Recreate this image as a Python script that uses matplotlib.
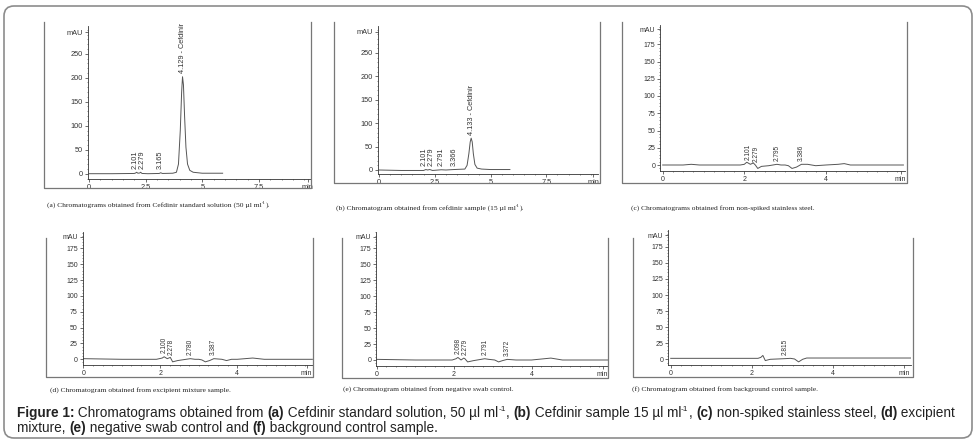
import numpy as np
import matplotlib
matplotlib.use('Agg')
import matplotlib.pyplot as plt
import matplotlib.transforms as mtransforms
from matplotlib.patches import FancyBboxPatch
from matplotlib.lines import Line2D
from matplotlib.ticker import MultipleLocator

W, H = 980, 443
INK = '#333333'
TRACE = '#555555'
FRAME = '#777777'

# ---- data: retention time (min) and absorbance (mAU) ----
# (a) Cefdinir standard solution
a_time = [0, 1.0, 2.0, 2.06, 2.101, 2.16, 2.24, 2.279, 2.34, 2.6, 3.1, 3.165, 3.24,
          3.7, 3.86, 3.95, 4.03, 4.09, 4.129, 4.17, 4.22, 4.28, 4.35, 4.45, 4.6, 5.0, 5.9]
a_mau = [0, 0, 0.5, 1.5, 3, 1, 1.5, 3, 0.5, 0, 0.5, 2, 0.5,
         1, 3, 20, 90, 170, 202, 185, 120, 55, 20, 7, 3, 1, 1]
a_rt = [2.101, 2.279, 3.165, 4.129]
a_names = ['2.101', '2.279', '3.165', '4.129 - Cefdinir']

# (b) Cefdinir sample
b_time = [0, 1.0, 2.0, 2.101, 2.18, 2.279, 2.4, 2.791, 3.0, 3.366, 3.6, 3.85,
          3.95, 4.03, 4.09, 4.133, 4.18, 4.23, 4.3, 4.4, 4.6, 5.0, 5.87]
b_mau = [0, -1, -1, 1, 0, 1, -1, 0.5, 0, 1, 1.5, 2,
         10, 35, 60, 68, 60, 35, 12, 4, 2, 1, 1]
b_rt = [2.101, 2.279, 2.791, 3.366, 4.133]
b_names = ['2.101', '2.279', '2.791', '3.366', '4.133 - Cefdinir']

# (c) non-spiked stainless steel
c_time = [0, 0.5, 0.7, 0.9, 1.9, 2.0, 2.06, 2.15, 2.22, 2.27, 2.33, 2.42, 2.6, 2.8,
          2.9, 3.0, 3.08, 3.17, 3.28, 3.4, 3.55, 3.75, 4.0, 4.3, 4.45, 4.6, 5.0, 5.9]
c_mau = [0, 0, 1, 0, 0, 1, 4, 1, 3, 0, -5, -2, -1, 1,
         0, 0, -1, -5, -3, 1, 1, -1, 0, 1, 2, 0, 0, 0]
c_rt = [2.101, 2.279, 2.795, 3.386]
c_names = ['2.101', '2.279', '2.795', '3.386']

# (d) excipient mixture
d_time = [0, 1.0, 1.9, 2.05, 2.10, 2.18, 2.26, 2.32, 2.45, 2.78, 2.9, 3.0,
          3.08, 3.17, 3.28, 3.39, 3.6, 3.72, 3.85, 4.0, 4.4, 4.7, 5.95]
d_mau = [1, 0, 0, 2, 4, 1, 3, -4, -2, 1, 0, 0,
         -1, -4, -2, 1, 0, -2, 0, 0, 2, 0, 0]
d_rt = [2.100, 2.278, 2.780, 3.387]
d_names = ['2.100', '2.278', '2.780', '3.387']

# (e) negative swab control
e_time = [0, 1.0, 1.95, 2.05, 2.098, 2.18, 2.25, 2.279, 2.35, 2.5, 2.791, 2.9,
          3.05, 3.15, 3.25, 3.372, 3.6, 4.0, 4.5, 4.8, 5.97]
e_mau = [1, 0, 0, 2, 4, 0, 3, 2, -3, -1, 2, 1,
         0, -3, -1, 1, 0, 0, 3, 0, 0]
e_rt = [2.098, 2.279, 2.791, 3.372]
e_names = ['2.098', '2.279', '2.791', '3.372']

# (f) background control
f_time = [0, 1.0, 2.15, 2.22, 2.27, 2.33, 2.45, 2.815, 2.95, 3.05, 3.15, 3.25, 3.35, 4.0, 5.91]
f_mau = [1.5, 1.5, 1.5, 3, 6, -2, 0, 1, 1.5, 0.5, -4, 0, 2, 2, 2]
f_rt = [2.815]
f_names = ['2.815']

captions = [
    [('(a) Chromatograms obtained from Cefdinir standard solution (50 µl ml', 'n'), ('-1', 'sup'), (').', 'n')],
    [('(b) Chromatogram obtained from cefdinir sample (15 µl ml', 'n'), ('-1', 'sup'), (').', 'n')],
    [('(c) Chromatograms obtained from non-spiked stainless steel.', 'n')],
    [('(d) Chromatogram obtained from excipient mixture sample.', 'n')],
    [('(e) Chromatogram obtained from negative swab control.', 'n')],
    [('(f) Chromatogram obtained from background control sample.', 'n')],
]

fig_line1 = [('Figure 1:', 'b'), (' Chromatograms obtained from ', 'n'), ('(a)', 'b'),
             (' Cefdinir standard solution, 50 µl ml', 'n'), ('-1', 'sup'), (', ', 'n'),
             ('(b)', 'b'), (' Cefdinir sample 15 µl ml', 'n'), ('-1', 'sup'), (', ', 'n'),
             ('(c)', 'b'), (' non-spiked stainless steel, ', 'n'), ('(d)', 'b'), (' excipient', 'n')]
fig_line2 = [('mixture, ', 'n'), ('(e)', 'b'), (' negative swab control and ', 'n'),
             ('(f)', 'b'), (' background control sample.', 'n')]

# ---- layout in pixels of the 980x443 picture ----
# axes: left, x of t=0, px per min, right, y of 0 mAU, px per mAU, top, bottom
layout = [
    dict(ax=(88, 89, 22.65, 311, 173.7, 0.48, 26, 179), frame=(44, 311, 22, 188),
         yt=50, ymax=250, mau=295, xt=[0, 2.5, 5, 7.5], xlab=['0', '2.5', '5', '7.5'], xend=9.65,
         shift=[-1.2, 1.2, 0, 0], cap=(47, 207)),
    dict(ax=(378, 379, 22.3, 598, 170, 0.468, 26, 174), frame=(334, 600, 22, 183),
         yt=50, ymax=250, mau=295, xt=[0, 2.5, 5, 7.5], xlab=['0', '2.5', '5', '7.5'], xend=9.6,
         shift=[-1.2, 1.0, 0, 0, 0], cap=(336, 210)),
    dict(ax=(660, 662.7, 40.8, 905, 165, 0.69, 25, 171), frame=(622, 907, 22, 183),
         yt=25, ymax=175, mau=197, xt=[0, 2, 4], xlab=['0', '2', '4'], xend=5.83,
         shift=[0, 0, 0, 0], cap=(631, 210)),
    dict(ax=(82.7, 83.3, 38.5, 313, 359.3, 0.634, 232, 365), frame=(46, 313, 238, 377),
         yt=25, ymax=175, mau=193, xt=[0, 2, 4], xlab=['0', '2', '4'], xend=5.8,
         shift=[0, 0, 0, 0], cap=(50, 392)),
    dict(ax=(376, 376.7, 38.7, 608, 360, 0.638, 232, 365.7), frame=(342, 608, 238, 378),
         yt=25, ymax=175, mau=193, xt=[0, 2, 4], xlab=['0', '2', '4'], xend=5.84,
         shift=[0, 0, 0, 0], cap=(343, 391)),
    dict(ax=(668.3, 670.7, 40.6, 911, 359.3, 0.643, 230, 365), frame=(633, 913, 238, 377),
         yt=25, ymax=175, mau=193, xt=[0, 2, 4], xlab=['0', '2', '4'], xend=5.75,
         shift=[0], cap=(632, 391)),
]

series = [(a_time, a_mau, a_rt, a_names), (b_time, b_mau, b_rt, b_names),
          (c_time, c_mau, c_rt, c_names), (d_time, d_mau, d_rt, d_names),
          (e_time, e_mau, e_rt, e_names), (f_time, f_mau, f_rt, f_names)]

fig = plt.figure(figsize=(W / 100, H / 100), dpi=100)
renderer = fig.canvas.get_renderer()


def text_width(s, size, family, weight):
    # width including trailing spaces: measure s+'l' minus 'l'
    p1 = fig.text(0, 0, s + 'l', fontsize=size, family=family, weight=weight)
    p2 = fig.text(0, 0, 'l', fontsize=size, family=family, weight=weight)
    w = p1.get_window_extent(renderer).width - p2.get_window_extent(renderer).width
    p1.remove()
    p2.remove()
    return w


def draw_runs(x, y, parts, size, family, color):
    for s, style in parts:
        fs = size * 0.62 if style == 'sup' else size
        rise = size * 0.45 if style == 'sup' else 0
        weight = 'bold' if style == 'b' else 'normal'
        tr = mtransforms.offset_copy(fig.transFigure, fig=fig, x=0, y=rise, units='points')
        fig.text(x / W, 1 - y / H, s, transform=tr, fontsize=fs, family=family,
                 weight=weight, color=color, va='baseline', ha='left')
        x += text_width(s, fs, family, weight)
    return x


# outer rounded box
box = FancyBboxPatch((0.04, 0.05), 9.68, 4.32, boxstyle='round,pad=0,rounding_size=0.1',
                     transform=fig.dpi_scale_trans, fill=False, edgecolor='#8c8c8c', lw=1.2)
fig.patches.append(box)

for (t, v, rt, names), lay, cap in zip(series, layout, captions):
    xl, x0, ppm, xr, y0, ppa, yt_px, yb_px = lay['ax']
    ax = fig.add_axes([xl / W, 1 - yb_px / H, (xr - xl) / W, (yb_px - yt_px) / H])
    ax.patch.set_alpha(0)
    ax.set_xlim((xl - x0) / ppm, (xr - x0) / ppm)
    ax.set_ylim(-(yb_px - y0) / ppa, (y0 - yt_px) / ppa)
    for side in ['top', 'right']:
        ax.spines[side].set_visible(False)
    for side in ['left', 'bottom']:
        ax.spines[side].set_color(INK)
        ax.spines[side].set_linewidth(0.6)

    ax.plot(t, v, color=TRACE, lw=0.7)

    big = lay['yt'] == 50
    for r, name, dx in zip(rt, names, lay['shift']):
        ax.annotate(name, (r, np.interp(r, t, v)), xytext=(dx, 2.5), textcoords='offset points',
                    rotation=90, ha='center', va='bottom', fontsize=5.3 if big else 4.7,
                    family='Liberation Sans', color=INK)

    yticks = list(np.arange(0, lay['ymax'] + 1, lay['yt']))
    ax.set_yticks(yticks + [lay['mau']])
    ax.set_yticklabels([str(int(y)) for y in yticks] + ['mAU'])
    ax.set_xticks(lay['xt'] + [lay['xend']])
    ax.set_xticklabels(lay['xlab'] + ['min'])
    ax.yaxis.set_minor_locator(MultipleLocator(lay['yt'] / 5))
    ax.xaxis.set_minor_locator(MultipleLocator(0.5 if big else 0.25))
    ax.tick_params(which='major', length=2, width=0.5, pad=1.5,
                   labelsize=5.3 if big else 5, colors=INK)
    ax.tick_params(which='minor', length=1, width=0.4, colors=INK)
    for lbl in ax.get_xticklabels() + ax.get_yticklabels():
        lbl.set_family('Liberation Sans')

    fl, fr, ft, fb = lay['frame']
    fig.lines.append(Line2D([fl / W, fl / W, fr / W, fr / W],
                            [1 - ft / H, 1 - fb / H, 1 - fb / H, 1 - ft / H],
                            transform=fig.transFigure, color=FRAME, lw=0.9))

    draw_runs(lay['cap'][0], lay['cap'][1], cap, 5.4, 'Liberation Serif', '#222222')

draw_runs(17, 417, fig_line1, 9.8, 'Liberation Sans', '#222222')
draw_runs(17, 432, fig_line2, 9.8, 'Liberation Sans', '#222222')

fig.savefig('out.png', dpi=100, facecolor='white')
